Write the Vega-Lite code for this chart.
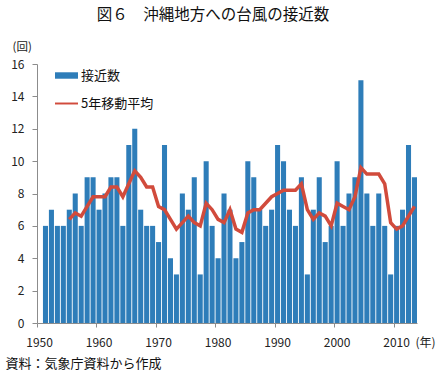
{
  "$schema": "https://vega.github.io/schema/vega-lite/v6.json",
  "width": 380,
  "height": 259,
  "padding": {"left": 5, "top": 7, "right": 5, "bottom": 5},
  "background": "white",
  "title": {"text": "図６　沖縄地方への台風の接近数", "font": "Noto Sans CJK JP", "fontSize": 15.5, "fontWeight": "normal", "color": "#111111", "dx": -14, "offset": 18},
  "config": {
    "view": {"stroke": null},
    "font": "Noto Sans CJK JP",
    "axis": {"domainColor": "#8c8c8c", "tickColor": "#8c8c8c", "labelColor": "#222222", "labelFontSize": 12, "labelFont": "Noto Sans CJK JP", "titleFont": "Noto Sans CJK JP", "titleFontWeight": "normal", "titleColor": "#222222", "grid": false, "tickSize": 4}
  },
  "data": {"values": [
    {"year": 1951, "count": 6, "ma": null},
    {"year": 1952, "count": 7, "ma": null},
    {"year": 1953, "count": 6, "ma": null},
    {"year": 1954, "count": 6, "ma": null},
    {"year": 1955, "count": 7, "ma": 6.4},
    {"year": 1956, "count": 8, "ma": 6.8},
    {"year": 1957, "count": 6, "ma": 6.6},
    {"year": 1958, "count": 9, "ma": 7.2},
    {"year": 1959, "count": 9, "ma": 7.8},
    {"year": 1960, "count": 7, "ma": 7.8},
    {"year": 1961, "count": 8, "ma": 7.8},
    {"year": 1962, "count": 9, "ma": 8.4},
    {"year": 1963, "count": 9, "ma": 8.4},
    {"year": 1964, "count": 6, "ma": 7.8},
    {"year": 1965, "count": 11, "ma": 8.6},
    {"year": 1966, "count": 12, "ma": 9.4},
    {"year": 1967, "count": 7, "ma": 9.0},
    {"year": 1968, "count": 6, "ma": 8.4},
    {"year": 1969, "count": 6, "ma": 8.4},
    {"year": 1970, "count": 5, "ma": 7.2},
    {"year": 1971, "count": 11, "ma": 7.0},
    {"year": 1972, "count": 4, "ma": 6.4},
    {"year": 1973, "count": 3, "ma": 5.8},
    {"year": 1974, "count": 8, "ma": 6.2},
    {"year": 1975, "count": 7, "ma": 6.6},
    {"year": 1976, "count": 9, "ma": 6.2},
    {"year": 1977, "count": 3, "ma": 6.0},
    {"year": 1978, "count": 10, "ma": 7.4},
    {"year": 1979, "count": 6, "ma": 7.0},
    {"year": 1980, "count": 4, "ma": 6.4},
    {"year": 1981, "count": 8, "ma": 6.2},
    {"year": 1982, "count": 7, "ma": 7.0},
    {"year": 1983, "count": 4, "ma": 5.8},
    {"year": 1984, "count": 5, "ma": 5.6},
    {"year": 1985, "count": 10, "ma": 6.8},
    {"year": 1986, "count": 9, "ma": 7.0},
    {"year": 1987, "count": 7, "ma": 7.0},
    {"year": 1988, "count": 6, "ma": 7.4},
    {"year": 1989, "count": 7, "ma": 7.8},
    {"year": 1990, "count": 11, "ma": 8.0},
    {"year": 1991, "count": 10, "ma": 8.2},
    {"year": 1992, "count": 7, "ma": 8.2},
    {"year": 1993, "count": 6, "ma": 8.2},
    {"year": 1994, "count": 9, "ma": 8.6},
    {"year": 1995, "count": 3, "ma": 7.0},
    {"year": 1996, "count": 7, "ma": 6.4},
    {"year": 1997, "count": 9, "ma": 6.8},
    {"year": 1998, "count": 5, "ma": 6.6},
    {"year": 1999, "count": 6, "ma": 6.0},
    {"year": 2000, "count": 10, "ma": 7.4},
    {"year": 2001, "count": 6, "ma": 7.2},
    {"year": 2002, "count": 8, "ma": 7.0},
    {"year": 2003, "count": 9, "ma": 7.8},
    {"year": 2004, "count": 15, "ma": 9.6},
    {"year": 2005, "count": 8, "ma": 9.2},
    {"year": 2006, "count": 6, "ma": 9.2},
    {"year": 2007, "count": 8, "ma": 9.2},
    {"year": 2008, "count": 6, "ma": 8.6},
    {"year": 2009, "count": 3, "ma": 6.2},
    {"year": 2010, "count": 6, "ma": 5.8},
    {"year": 2011, "count": 7, "ma": 6.0},
    {"year": 2012, "count": 11, "ma": 6.6},
    {"year": 2013, "count": 9, "ma": 7.2}
  ]},
  "encoding": {
    "x": {
      "field": "year",
      "type": "ordinal",
      "scale": {"domain": [1950,1951,1952,1953,1954,1955,1956,1957,1958,1959,1960,1961,1962,1963,1964,1965,1966,1967,1968,1969,1970,1971,1972,1973,1974,1975,1976,1977,1978,1979,1980,1981,1982,1983,1984,1985,1986,1987,1988,1989,1990,1991,1992,1993,1994,1995,1996,1997,1998,1999,2000,2001,2002,2003,2004,2005,2006,2007,2008,2009,2010,2011,2012,2013], "paddingInner": 0.15, "paddingOuter": 0},
      "axis": {"values": [1950,1960,1970,1980,1990,2000,2010], "bandPosition": 0, "labelAngle": 0, "labelPadding": 10, "tickSize": 4, "title": "(年)", "titleX": 388, "titleY": 19, "titleAlign": "center", "titleBaseline": "middle", "titleFontSize": 12}
    }
  },
  "layer": [
    {
      "mark": {"type": "bar"},
      "encoding": {
        "y": {"field": "count", "type": "quantitative", "scale": {"domain": [0, 16], "nice": false},
          "axis": {"values": [0,2,4,6,8,10,12,14,16], "title": "(回)", "titleAngle": 0, "titleX": -25, "titleY": -17, "titleAlign": "left", "titleBaseline": "middle", "titleFontSize": 11.5, "labelPadding": 8, "tickSize": 5}},
        "color": {"datum": "接近数", "type": "nominal",
          "scale": {"domain": ["接近数", "5年移動平均"], "range": ["#2E7DB9", "#D14B3C"]},
          "legend": {"orient": "none", "legendX": 18, "legendY": 0, "title": null, "padding": 0, "symbolSize": 529, "labelFontSize": 13, "labelOffset": 3, "rowPadding": 9, "labelColor": "#111111",
            "encode": {"symbols": {"update": {
              "shape": {"signal": "datum.value === '接近数' ? 'M-1,-0.28H1V0.28H-1Z' : 'M-1,-0.085H1V0.085H-1Z'"},
              "fill": {"signal": "datum.value === '接近数' ? '#2E7DB9' : '#D14B3C'"},
              "stroke": {"value": "transparent"},
              "strokeWidth": {"value": 0},
              "opacity": {"value": 1}
            }}}}
        }
      }
    },
    {
      "mark": {"type": "line", "strokeWidth": 3.5},
      "encoding": {
        "y": {"field": "ma", "type": "quantitative", "scale": {"domain": [0, 16], "nice": false},
          "axis": {"orient": "right", "title": "資料：気象庁資料から作成", "labels": false, "ticks": false, "domain": false, "grid": false, "titleAngle": 0, "titleX": -412, "titleY": 299, "titleAlign": "left", "titleBaseline": "middle", "titleFontSize": 13, "titleColor": "#111111"}},
        "color": {"datum": "5年移動平均", "type": "nominal"}
      }
    }
  ],
  "resolve": {"scale": {"y": "independent"}}
}
